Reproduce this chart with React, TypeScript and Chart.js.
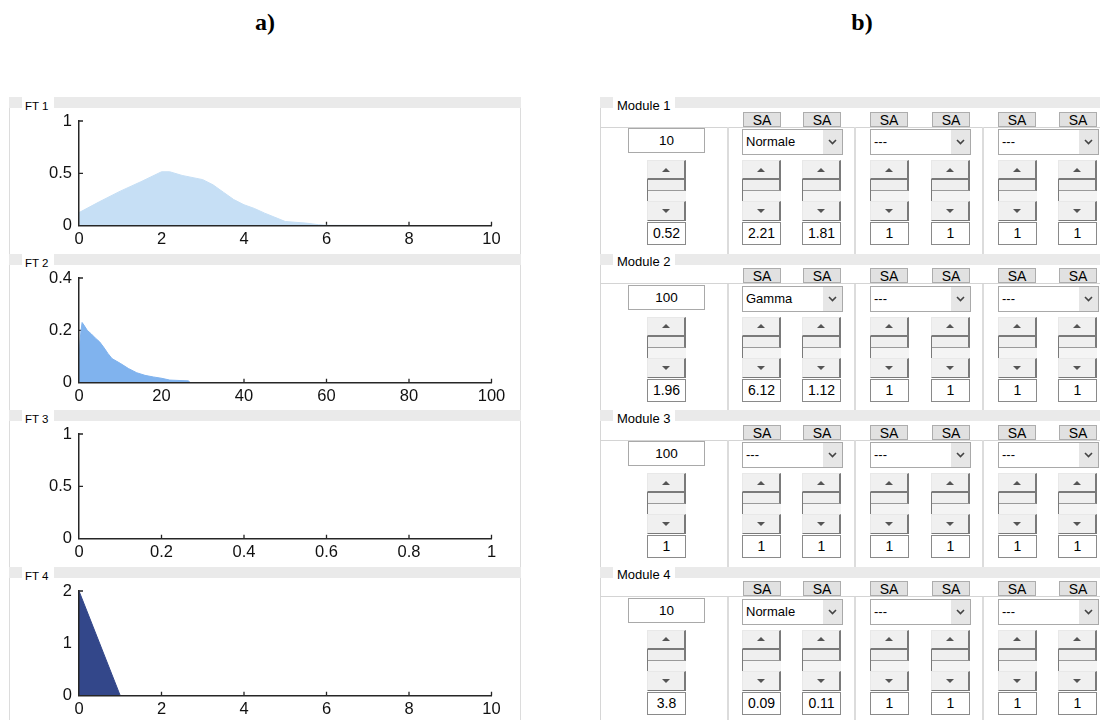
import React, { useEffect, useRef } from "react";
import { Chart, registerables } from "chart.js";
Chart.register(...registerables);

// ---------- data ----------
const ft1X = [0, 0.5, 1, 1.5, 2, 2.2, 2.5, 3, 3.25, 3.5, 3.75, 4, 4.25, 4.5, 4.75, 5, 5.5, 5.8, 6, 10];
const ft1Y = [0.125, 0.23, 0.33, 0.42, 0.515, 0.515, 0.48, 0.44, 0.39, 0.32, 0.25, 0.2, 0.165, 0.12, 0.08, 0.04, 0.025, 0.01, 0.004, 0];

const ft2X = [0, 0.25, 0.5, 0.75, 1.2, 2, 3, 4, 5, 6, 7, 8, 10, 12, 14, 16, 18, 20, 22, 26.5, 27, 100];
const ft2Y = [0.08, 0.16, 0.2, 0.23, 0.22, 0.2, 0.186, 0.17, 0.156, 0.135, 0.112, 0.092, 0.074, 0.054, 0.038, 0.028, 0.022, 0.017, 0.01, 0.007, 0, 0];

const ft3X: number[] = [];
const ft3Y: number[] = [];

const ft4X = [0, 1, 10];
const ft4Y = [2, 0, 0];

const ft1XTicks = [0, 2, 4, 6, 8, 10];
const ft1YTicks = [0, 0.5, 1];
const ft2XTicks = [0, 20, 40, 60, 80, 100];
const ft2YTicks = [0, 0.2, 0.4];
const ft3XTicks = [0, 0.2, 0.4, 0.6, 0.8, 1];
const ft3YTicks = [0, 0.5, 1];
const ft4XTicks = [0, 2, 4, 6, 8, 10];
const ft4YTicks = [0, 1, 2];

const ftNames = ["FT 1", "FT 2", "FT 3", "FT 4"];

const moduleNames = ["Module 1", "Module 2", "Module 3", "Module 4"];
const moduleCounts = ["10", "100", "100", "10"];
const moduleFirstDist = ["Normale", "Gamma", "---", "Normale"];
const moduleOtherDist = ["---", "---"];
const moduleValues = [
  ["0.52", "2.21", "1.81", "1", "1", "1", "1"],
  ["1.96", "6.12", "1.12", "1", "1", "1", "1"],
  ["1", "1", "1", "1", "1", "1", "1"],
  ["3.8", "0.09", "0.11", "1", "1", "1", "1"],
];
const saLabels = ["SA", "SA", "SA", "SA", "SA", "SA"];

// ---------- styles / layout ----------
const FT_COLORS = ["#c6dff5", "#80b3ee", "#80b3ee", "#33478a"];
const PANEL_TOPS = [97, 253.5, 410, 566.5];
const AXIS_COLOR = "#262626";
const SANS = "'Liberation Sans', Arial, sans-serif";

const fmt = (v: number) => String(Math.round(Number(v) * 1000) / 1000);

const tickMarks = {
  id: "tickMarks",
  beforeDatasetsDraw(chart: any) {
    const { ctx, chartArea } = chart;
    const xs = chart.scales.x;
    const ys = chart.scales.y;
    ctx.save();
    ctx.strokeStyle = AXIS_COLOR;
    ctx.lineWidth = 1.3;
    ctx.beginPath();
    xs.ticks.forEach((t: any, i: number) => {
      if (i === 0) return;
      const px = xs.getPixelForValue(t.value);
      ctx.moveTo(px, chartArea.bottom);
      ctx.lineTo(px, chartArea.bottom - 4);
    });
    ys.ticks.forEach((t: any, i: number) => {
      if (i === 0) return;
      const py = ys.getPixelForValue(t.value);
      ctx.moveTo(chartArea.left, py);
      ctx.lineTo(chartArea.left + 4, py);
    });
    ctx.stroke();
    ctx.restore();
  },
};

function FTChart(props: { xs: number[]; ys: number[]; color: string; xTicks: number[]; yTicks: number[] }) {
  const ref = useRef<HTMLCanvasElement>(null);
  useEffect(() => {
    const { xs, ys, color, xTicks, yTicks } = props;
    const data = xs.map((x, i) => ({ x, y: ys[i] }));
    const font = { family: SANS, size: 16.5 };
    const chart = new Chart(ref.current as HTMLCanvasElement, {
      type: "line",
      data: {
        datasets: [
          {
            data,
            fill: "origin",
            backgroundColor: color,
            borderColor: color,
            borderWidth: 1,
            pointRadius: 0,
            tension: 0,
          },
        ],
      },
      options: {
        animation: false,
        responsive: false,
        devicePixelRatio: 1,
        events: [],
        layout: { padding: { top: 24, right: 29.5, left: 0, bottom: 0 } },
        plugins: { legend: { display: false }, tooltip: { enabled: false } },
        scales: {
          x: {
            type: "linear",
            min: xTicks[0],
            max: xTicks[xTicks.length - 1],
            afterBuildTicks: (s: any) => {
              s.ticks = xTicks.map((v) => ({ value: v }));
            },
            afterFit: (s: any) => {
              s.height = 27.3;
            },
            grid: { display: false, drawTicks: false },
            border: { display: true, color: AXIS_COLOR, width: 1.5, z: 1 },
            ticks: { padding: 4, color: "#111", font, maxRotation: 0, autoSkip: false, callback: (v: any) => fmt(v) },
          },
          y: {
            type: "linear",
            min: yTicks[0],
            max: yTicks[yTicks.length - 1],
            afterBuildTicks: (s: any) => {
              s.ticks = yTicks.map((v) => ({ value: v }));
            },
            afterFit: (s: any) => {
              s.width = 70;
            },
            grid: { display: false, drawTicks: false },
            border: { display: true, color: AXIS_COLOR, width: 1.5, z: 1 },
            ticks: { padding: 7, color: "#111", font, autoSkip: false, callback: (v: any) => fmt(v) },
          },
        },
      } as any,
      plugins: [tickMarks],
    });
    return () => chart.destroy();
  }, []);
  return <canvas ref={ref} width={512} height={156} style={{ position: "absolute", left: 0, top: 0 }} />;
}

function FTPanel(props: { i: number; xs: number[]; ys: number[]; xTicks: number[]; yTicks: number[] }) {
  const { i } = props;
  const top = PANEL_TOPS[i];
  return (
    <div style={{ position: "absolute", left: 9, top, width: 512, height: 160 }}>
      <div style={{ position: "absolute", left: 0, top: 0, width: 512, height: 11, background: "#eaeaea" }} />
      <div
        style={{
          position: "absolute",
          left: 0,
          top: 11,
          width: 510,
          height: 150,
          background: "#fff",
          borderLeft: "1px solid #dcdcdc",
          borderRight: "1px solid #dcdcdc",
        }}
      />
      <div
        style={{
          position: "absolute",
          left: 13,
          top: 0,
          width: 32,
          height: 12,
          background: "#fff",
        }}
      />
      <div
        style={{
          position: "absolute",
          left: 16,
          top: 3,
          fontFamily: SANS,
          fontSize: 11.5,
          lineHeight: "13px",
          color: "#000",
          whiteSpace: "nowrap",
        }}
      >
        {ftNames[i]}
      </div>
      <FTChart xs={props.xs} ys={props.ys} color={FT_COLORS[i]} xTicks={props.xTicks} yTicks={props.yTicks} />
    </div>
  );
}

function Spinner(props: { left: number; value: string }) {
  const { left, value } = props;
  const w = 39;
  const btn = (top: number, h: number, up: boolean) => (
    <div
      style={{
        position: "absolute",
        left,
        top,
        width: w,
        height: h,
        boxSizing: "border-box",
        background: "#f0f0f0",
        borderTop: "1px solid #e8e8e8",
        borderLeft: "1px solid #e8e8e8",
        borderRight: "2px solid #7a7a7a",
        borderBottom: "1px solid #7a7a7a",
      }}
    >
      <div
        style={{
          position: "absolute",
          left: (w - 3) / 2 - 4,
          top: h / 2 - 3,
          width: 0,
          height: 0,
          borderLeft: "4px solid transparent",
          borderRight: "4px solid transparent",
          ...(up ? { borderBottom: "4px solid #555" } : { borderTop: "4px solid #555" }),
        }}
      />
    </div>
  );
  return (
    <>
      {btn(63, 19, true)}
      <div
        style={{
          position: "absolute",
          left,
          top: 82,
          width: w,
          height: 22,
          boxSizing: "border-box",
          background: "#f4f4f4",
          borderLeft: "1px solid #7a7a7a",
          borderTop: "1px solid #7a7a7a",
        }}
      >
        <div
          style={{
            position: "absolute",
            left: 0,
            top: 0,
            width: w - 1,
            height: 11,
            boxSizing: "border-box",
            background: "#efefef",
            borderRight: "2px solid #7a7a7a",
            borderBottom: "1px solid #9a9a9a",
          }}
        />
      </div>
      {btn(104, 20, false)}
      <div
        style={{
          position: "absolute",
          left,
          top: 125,
          width: w,
          height: 23,
          boxSizing: "border-box",
          background: "#fff",
          border: "1px solid #8a8a8a",
          fontFamily: SANS,
          fontSize: 14,
          lineHeight: "21px",
          textAlign: "center",
          color: "#000",
        }}
      >
        {value}
      </div>
    </>
  );
}

function Dropdown(props: { left: number; text: string }) {
  return (
    <div
      style={{
        position: "absolute",
        left: props.left,
        top: 32,
        width: 101,
        height: 26,
        boxSizing: "border-box",
        background: "#fff",
        border: "1px solid #a9a9a9",
        fontFamily: SANS,
        fontSize: 13,
        lineHeight: "24px",
        color: "#000",
        paddingLeft: 3,
      }}
    >
      {props.text}
      <div style={{ position: "absolute", right: 0, top: 0, width: 19, height: 24, background: "#e6e6e6" }}>
        <svg width="19" height="24" style={{ position: "absolute", left: 0, top: 0 }}>
          <polyline points="6,10 9.5,13.5 13,10" fill="none" stroke="#444" strokeWidth="1.6" />
        </svg>
      </div>
    </div>
  );
}

const SA_LEFTS = [143, 203, 270, 332, 398, 459];
const SPIN_LEFTS = [47, 142, 202, 270, 331, 398, 458];
const DROP_LEFTS = [142, 270, 398];
const SEP_LEFTS = [127, 254, 382];

function ModulePanel(props: { i: number }) {
  const { i } = props;
  const top = PANEL_TOPS[i];
  const dists = [moduleFirstDist[i], ...moduleOtherDist];
  return (
    <div style={{ position: "absolute", left: 600, top, width: 500, height: 160 }}>
      <div style={{ position: "absolute", left: 0, top: 0, width: 500, height: 11, background: "#eaeaea" }} />
      <div
        style={{
          position: "absolute",
          left: 0,
          top: 11,
          width: 500,
          height: 150,
          boxSizing: "border-box",
          background: "#fff",
          borderLeft: "1px solid #d6d6d6",
        }}
      />
      <div style={{ position: "absolute", left: 13, top: 0, width: 62, height: 13, background: "#fff" }} />
      <div
        style={{
          position: "absolute",
          left: 17,
          top: 1.5,
          fontFamily: SANS,
          fontSize: 13,
          lineHeight: "14px",
          color: "#000",
          whiteSpace: "nowrap",
        }}
      >
        {moduleNames[i]}
      </div>
      {saLabels.map((s, k) => (
        <div
          key={"sa" + k}
          style={{
            position: "absolute",
            left: SA_LEFTS[k],
            top: 14.5,
            width: 38,
            height: 15,
            boxSizing: "border-box",
            background: "#e1e1e1",
            border: "1px solid #adadad",
            fontFamily: SANS,
            fontSize: 14,
            lineHeight: "14px",
            textAlign: "center",
            color: "#000",
          }}
        >
          {s}
        </div>
      ))}
      <div style={{ position: "absolute", left: 0, top: 29.5, width: 500, height: 1, background: "#d4d4d4" }} />
      {SEP_LEFTS.map((x, k) => (
        <div key={"sep" + k} style={{ position: "absolute", left: x, top: 30, width: 2, height: 130, background: "#dcdcdc" }} />
      ))}
      <div
        style={{
          position: "absolute",
          left: 28,
          top: 31,
          width: 77,
          height: 25,
          boxSizing: "border-box",
          background: "#fff",
          border: "1px solid #a9a9a9",
          fontFamily: SANS,
          fontSize: 13.5,
          lineHeight: "23px",
          textAlign: "center",
          color: "#000",
        }}
      >
        {moduleCounts[i]}
      </div>
      {dists.map((d, k) => (
        <Dropdown key={"dd" + k} left={DROP_LEFTS[k]} text={d} />
      ))}
      {moduleValues[i].map((v, k) => (
        <Spinner key={"sp" + k} left={SPIN_LEFTS[k]} value={v} />
      ))}
    </div>
  );
}

export default function App() {
  const series = [
    { xs: ft1X, ys: ft1Y, xTicks: ft1XTicks, yTicks: ft1YTicks },
    { xs: ft2X, ys: ft2Y, xTicks: ft2XTicks, yTicks: ft2YTicks },
    { xs: ft3X, ys: ft3Y, xTicks: ft3XTicks, yTicks: ft3YTicks },
    { xs: ft4X, ys: ft4Y, xTicks: ft4XTicks, yTicks: ft4YTicks },
  ];
  return (
    <div
      style={{
        position: "absolute",
        left: 0,
        top: 0,
        width: 1105,
        height: 720,
        background: "#fff",
        overflow: "hidden",
      }}
    >
      <div
        style={{
          position: "absolute",
          left: 240,
          top: 8,
          width: 50,
          textAlign: "center",
          fontFamily: "'Liberation Serif', 'Times New Roman', serif",
          fontWeight: "bold",
          fontSize: 24,
          lineHeight: "28px",
          color: "#000",
        }}
      >
        a)
      </div>
      <div
        style={{
          position: "absolute",
          left: 837,
          top: 8,
          width: 50,
          textAlign: "center",
          fontFamily: "'Liberation Serif', 'Times New Roman', serif",
          fontWeight: "bold",
          fontSize: 24,
          lineHeight: "28px",
          color: "#000",
        }}
      >
        b)
      </div>
      {series.map((s, i) => (
        <FTPanel key={"ft" + i} i={i} xs={s.xs} ys={s.ys} xTicks={s.xTicks} yTicks={s.yTicks} />
      ))}
      {[0, 1, 2, 3].map((i) => (
        <ModulePanel key={"m" + i} i={i} />
      ))}
    </div>
  );
}
